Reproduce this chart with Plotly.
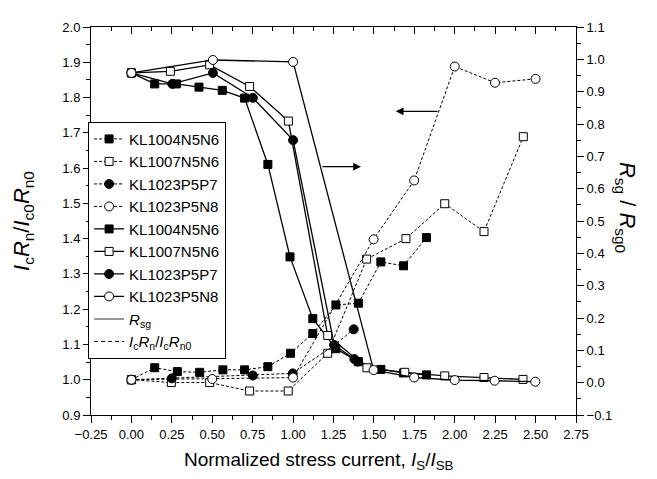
import plotly.graph_objects as go

# ---------------- data ----------------
names = ["KL1004N5N6", "KL1007N5N6", "KL1023P5P7", "KL1023P5N8"]

# IcRn / IcRn0 (left axis, dashed)
ic_x_N5N6_04 = [0, 0.144, 0.284, 0.422, 0.566, 0.70, 0.844, 0.984, 1.122, 1.265, 1.404, 1.543, 1.683, 1.825]
ic_y_N5N6_04 = [1.0, 1.034, 1.023, 1.021, 1.028, 1.028, 1.037, 1.075, 1.131, 1.212, 1.217, 1.334, 1.323, 1.403]
ic_x_N5N6_07 = [0, 0.247, 0.484, 0.731, 0.97, 1.214, 1.455, 1.698, 1.938, 2.181, 2.424]
ic_y_N5N6_07 = [1.0, 0.992, 0.992, 0.968, 0.968, 1.075, 1.342, 1.40, 1.499, 1.42, 1.689]
ic_x_P5P7 = [0, 0.25, 0.751, 0.998, 1.255, 1.375]
ic_y_P5P7 = [1.0, 1.004, 1.012, 1.018, 1.098, 1.143]
ic_x_P5N8 = [0, 0.50, 1.0, 1.498, 1.749, 2.0, 2.249, 2.50]
ic_y_P5N8 = [1.0, 1.002, 1.006, 1.398, 1.565, 1.888, 1.842, 1.853]

# Rsg / Rsg0 (right axis, solid)
rs_x_N5N6_04 = [0, 0.144, 0.278, 0.418, 0.562, 0.70, 0.844, 0.981, 1.122, 1.265, 1.404, 1.543, 1.683, 1.825]
rs_y_N5N6_04 = [0.958, 0.924, 0.924, 0.914, 0.904, 0.880, 0.675, 0.389, 0.198, 0.105, 0.065, 0.041, 0.030, 0.024]
rs_x_N5N6_07 = [0, 0.241, 0.484, 0.731, 0.971, 1.214, 1.457, 1.691, 1.938, 2.181, 2.422]
rs_y_N5N6_07 = [0.958, 0.963, 0.983, 0.916, 0.809, 0.146, 0.046, 0.032, 0.021, 0.016, 0.010]
rs_x_P5P7 = [0, 0.253, 0.504, 0.751, 1.0, 1.255, 1.379, 1.40]
rs_y_P5P7 = [0.958, 0.924, 0.958, 0.881, 0.750, 0.116, 0.073, 0.065]
rs_x_P5N8 = [0, 0.504, 1.0, 1.498, 1.749, 2.0, 2.247, 2.498]
rs_y_P5N8 = [0.958, 0.998, 0.992, 0.039, 0.016, 0.008, 0.006, 0.003]

symbols = ["square", "square", "circle", "circle"]
fills = ["black", "white", "black", "white"]
marker_sizes = [8, 8, 9, 9]

# arrows: (tail x, tail y, head x, head y) in data units of left axis
arrow_left = (1.903, 1.761, 1.635, 1.761)
arrow_right = (1.173, 1.604, 1.42, 1.604)

FONT = "Liberation Sans, Arial, sans-serif"

ic_sets = [(ic_x_N5N6_04, ic_y_N5N6_04), (ic_x_N5N6_07, ic_y_N5N6_07),
           (ic_x_P5P7, ic_y_P5P7), (ic_x_P5N8, ic_y_P5N8)]
rs_sets = [(rs_x_N5N6_04, rs_y_N5N6_04), (rs_x_N5N6_07, rs_y_N5N6_07),
           (rs_x_P5P7, rs_y_P5P7), (rs_x_P5N8, rs_y_P5N8)]

fig = go.Figure()

for i, (xs, ys) in enumerate(ic_sets):
    fig.add_trace(go.Scatter(
        x=xs, y=ys, name=names[i], mode="lines+markers",
        line=dict(color="black", width=1, dash="3px,2px"),
        marker=dict(symbol=symbols[i], size=marker_sizes[i], color=fills[i],
                    line=dict(color="black", width=1)),
        yaxis="y"))

for i, (xs, ys) in enumerate(rs_sets):
    fig.add_trace(go.Scatter(
        x=xs, y=ys, name=names[i], mode="lines+markers",
        line=dict(color="black", width=1.3),
        marker=dict(symbol=symbols[i], size=marker_sizes[i], color=fills[i],
                    line=dict(color="black", width=1)),
        yaxis="y2"))

# legend-only style entries
fig.add_trace(go.Scatter(x=[None], y=[None], mode="lines",
                         name="<i>R</i><sub>sg</sub>",
                         line=dict(color="#777777", width=1.5)))
fig.add_trace(go.Scatter(x=[None], y=[None], mode="lines",
                         name="<i>I</i><sub>c</sub><i>R</i><sub>n</sub>/<i>I</i><sub>c</sub><i>R</i><sub>n0</sub>",
                         line=dict(color="black", width=1, dash="4px,3px")))
# empty trace to activate the top mirror axis
fig.add_trace(go.Scatter(x=[None], y=[None], xaxis="x2", showlegend=False, hoverinfo="skip"))

tickfont = dict(family=FONT, size=13, color="black")

fig.update_layout(
    width=657, height=479,
    margin=dict(l=83, r=89, t=16, b=72),
    paper_bgcolor="white", plot_bgcolor="white",
    font=dict(family=FONT, color="black"),
    showlegend=True,
    legend=dict(x=-0.006, y=0.756, xanchor="left", yanchor="top",
                bordercolor="black", borderwidth=1, bgcolor="white",
                font=dict(family=FONT, size=15, color="black"),
                tracegroupgap=0),
    xaxis=dict(range=[-0.25, 2.75], dtick=0.25, tick0=0, tickformat=".2f",
               showgrid=False, zeroline=False, showline=True, linecolor="black",
               linewidth=1, ticks="outside", ticklen=7, tickcolor="black",
               minor=dict(dtick=0.125, ticklen=4, ticks="outside", tickcolor="black"),
               tickfont=tickfont),
    xaxis2=dict(range=[-0.25, 2.75], overlaying="x", side="top", anchor="y",
                dtick=0.25, tick0=0, showticklabels=False, showgrid=False,
                zeroline=False, showline=True, linecolor="black", linewidth=1,
                ticks="inside", ticklen=7, tickcolor="black",
                minor=dict(dtick=0.125, ticklen=4, ticks="inside", tickcolor="black")),
    yaxis=dict(range=[0.9, 2.0], dtick=0.1, tick0=0.9, tickformat=".1f",
               showgrid=False, zeroline=False, showline=True, linecolor="black",
               linewidth=1, ticks="outside", ticklen=7, tickcolor="black",
               minor=dict(dtick=0.05, ticklen=4, ticks="outside", tickcolor="black"),
               tickfont=tickfont,
               title=dict(text="<i>I</i><sub>c</sub><i>R</i><sub>n</sub>/<i>I</i><sub>c0</sub><i>R</i><sub>n0</sub>",
                          font=dict(family=FONT, size=22, color="black"), standoff=26)),
    yaxis2=dict(range=[-0.1, 1.1], dtick=0.1, tick0=-0.1, tickformat=".1f",
                overlaying="y", side="right", anchor="x",
                showgrid=False, zeroline=False, showline=True, linecolor="black",
                linewidth=1, ticks="outside", ticklen=7, tickcolor="black",
                minor=dict(dtick=0.05, ticklen=4, ticks="outside", tickcolor="black"),
                tickfont=tickfont),
    annotations=[
        dict(x=arrow_left[2], y=arrow_left[3], ax=arrow_left[0], ay=arrow_left[1],
             xref="x", yref="y", axref="x", ayref="y", text="", showarrow=True,
             arrowhead=2, arrowsize=1.3, arrowwidth=1.2, arrowcolor="black"),
        dict(x=arrow_right[2], y=arrow_right[3], ax=arrow_right[0], ay=arrow_right[1],
             xref="x", yref="y", axref="x", ayref="y", text="", showarrow=True,
             arrowhead=2, arrowsize=1.3, arrowwidth=1.2, arrowcolor="black"),
        dict(x=1.135, y=0.535, xref="paper", yref="paper", showarrow=False,
             text="<i>R</i><sub>sg</sub> / <i>R</i><sub>sg0</sub>", textangle=90,
             font=dict(family=FONT, size=22, color="black")),
        dict(x=0.47, y=-0.083, xref="paper", yref="paper", showarrow=False,
             xanchor="center", yanchor="top",
             text="Normalized stress current, <i>I</i><sub>S</sub>/<i>I</i><sub>SB</sub>",
             font=dict(family=FONT, size=19, color="black")),
    ],
)

fig.write_html("out.html")
